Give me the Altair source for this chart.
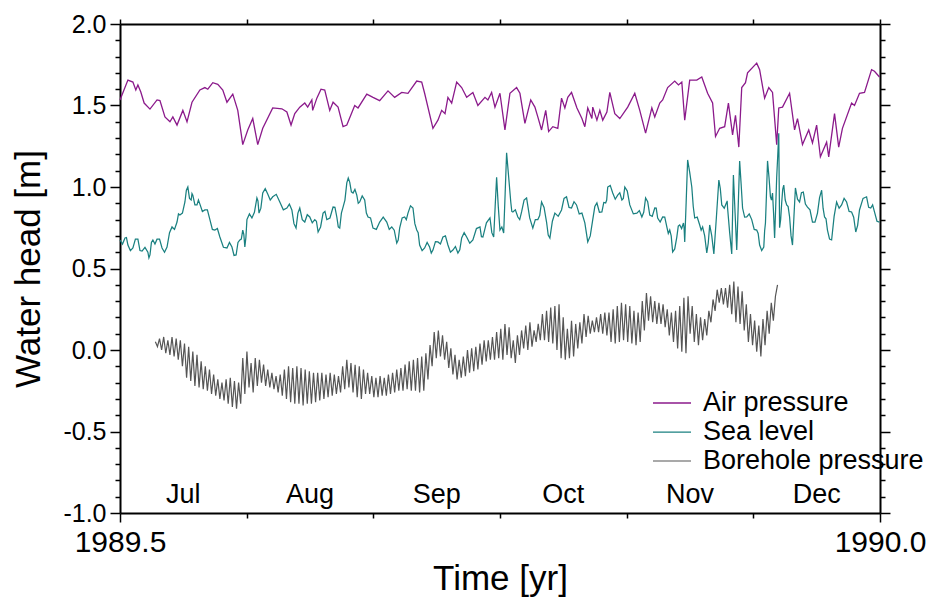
import altair as alt
import pandas as pd

FONT = "Liberation Sans"

# Air pressure expressed as water head: days after mid-year 1989 and head [m]
air_day = [0, 1.9, 3.1, 3.8, 4.3, 5.0, 5.8, 7.2, 8.9, 9.6, 10.8, 12.0, 12.7, 13.7, 15.1, 16.1, 17.3,
           19.2, 20.4, 21.1, 22.3, 23.5, 24.7, 25.7, 27.1, 28.3, 29.5, 30.7, 31.9, 33.1, 34.3, 36.7,
           38.9, 40.1, 41.1, 42.0, 43.2, 44.4, 45.1, 46.1, 46.3, 47.3, 48.3, 49.2, 50.4, 51.2, 52.4,
           53.6, 54.5, 56.4, 57.2, 59.3, 60.8, 62.4, 64.4, 66.0, 67.7, 69.2, 71.3, 72.5, 73.2, 75.2,
           76.4, 77.3, 78.1, 78.8, 79.7, 80.9, 82.1, 83.3, 84.8, 86.0, 87.7, 88.4, 89.3, 90.1, 91.3,
           92.5, 93.7, 95.3, 96.1, 97.3, 98.7, 99.7, 100.4, 101.3, 102.3, 103.0, 104.0, 105.2, 106.1,
           106.9, 107.6, 108.5, 109.8, 111.0, 111.7, 112.4, 113.4, 113.6, 114.6, 115.3, 116.0, 117.0,
           117.7, 118.9, 120.1, 122.0, 123.7, 124.9, 126.3, 127.8, 128.5, 129.7, 130.4, 131.6, 133.3,
           134.2, 135.0, 135.7, 136.9, 138.6, 139.8, 141.2, 142.4, 143.1, 144.1, 145.3, 146.2, 147.2,
           147.9, 148.7, 149.4, 150.3, 150.8, 153.0, 153.7, 154.9, 155.9, 156.8, 157.8, 158.3, 159.2,
           160.9, 162.1, 162.8, 164.0, 165.5, 166.4, 167.4, 168.3, 169.8, 170.3, 171.7, 172.7, 173.6,
           175.8, 176.5, 177.7, 178.9, 180.6, 181.3, 182.5]
air_val = [1.534, 1.656, 1.644, 1.595, 1.626, 1.583, 1.515, 1.478, 1.534, 1.53, 1.43, 1.40, 1.43, 1.38,
           1.47, 1.40, 1.52, 1.595, 1.61, 1.60, 1.64, 1.63, 1.595, 1.52, 1.57, 1.47, 1.26, 1.35, 1.42,
           1.26, 1.36, 1.485, 1.48, 1.46, 1.38, 1.45, 1.49, 1.515, 1.49, 1.534, 1.47, 1.545, 1.60,
           1.595, 1.47, 1.52, 1.49, 1.37, 1.38, 1.50, 1.485, 1.57, 1.55, 1.53, 1.59, 1.55, 1.58, 1.575,
           1.65, 1.644, 1.575, 1.36, 1.41, 1.47, 1.45, 1.55, 1.515, 1.644, 1.61, 1.55, 1.58, 1.50,
           1.55, 1.534, 1.58, 1.49, 1.575, 1.35, 1.575, 1.61, 1.575, 1.39, 1.534, 1.49, 1.43, 1.35,
           1.47, 1.34, 1.37, 1.36, 1.545, 1.485, 1.55, 1.58, 1.485, 1.42, 1.37, 1.485, 1.42, 1.49,
           1.41, 1.47, 1.41, 1.46, 1.58, 1.45, 1.42, 1.49, 1.575, 1.47, 1.33, 1.485, 1.43, 1.515,
           1.534, 1.61, 1.65, 1.626, 1.644, 1.41, 1.656, 1.656, 1.675, 1.575, 1.515, 1.31, 1.36, 1.37,
           1.515, 1.32, 1.44, 1.245, 1.61, 1.64, 1.70, 1.76, 1.72, 1.545, 1.61, 1.58, 1.26, 1.485,
           1.49, 1.575, 1.35, 1.42, 1.26, 1.35, 1.27, 1.38, 1.185, 1.275, 1.185, 1.45, 1.245, 1.36,
           1.515, 1.50, 1.575, 1.58, 1.72, 1.71, 1.675]

# Sea level: days after mid-year 1989 and head [m]
sea_day = [0, 1.2, 1.9, 3.1, 4.3, 5.3, 6.7, 7.2, 7.9, 8.9, 10.1, 11.3, 12.5, 13.7, 14.4, 15.6, 16.3,
           17.1, 17.5, 18.5, 19.2, 20.4, 21.6, 22.8, 24.0, 25.7, 26.9, 27.9, 28.8, 29.5, 30.0, 30.5,
           31.7, 32.9, 33.4, 34.3, 35.5, 36.7, 38.4, 40.1, 41.3, 42.3, 43.2, 44.4, 45.6, 46.8, 47.6,
           48.8, 49.7, 51.2, 52.1, 52.8, 53.6, 54.5, 55.2, 56.0, 56.9, 57.6, 58.8, 59.6, 60.8, 62.4,
           64.1, 65.3, 66.5, 67.2, 68.4, 69.2, 70.4, 71.3, 72.0, 73.2, 74.4, 75.2, 76.4, 77.6, 78.8,
           80.0, 81.2, 82.1, 83.3, 84.8, 86.5, 87.2, 88.9, 89.8, 90.5, 91.3, 92.2, 92.9, 93.9, 94.4,
           95.6, 96.5, 97.7, 99.2, 100.4, 101.3, 102.5, 103.3, 104.5, 106.1, 107.3, 108.5, 109.7,
           111.0, 112.4, 113.6, 114.6, 115.8, 116.7, 117.2, 118.4, 119.6, 120.6, 121.3, 122.5, 124.2,
           125.4, 126.3, 127.3, 128.5, 129.2, 130.4, 131.4, 132.1, 132.8, 133.8, 134.5, 135.4, 135.7,
           136.4, 137.4, 138.1, 139.3, 140.0, 141.0, 141.7, 142.7, 143.9, 144.6, 145.8, 146.0, 147.0,
           147.4, 148.2, 148.9, 149.6, 150.6, 151.8, 153.0, 153.7, 154.7, 155.1, 155.6, 156.3, 156.8,
           157.3, 157.8, 158.3, 158.5, 159.0, 159.5, 160.2, 160.9, 161.6, 162.3, 163.3, 164.2, 165.2,
           166.4, 167.6, 168.6, 169.3, 170.0, 171.0, 172.2, 173.4, 174.6, 175.8, 176.8, 177.7, 179.4,
           180.4, 181.3, 182.5]
sea_val = [0.675, 0.687, 0.644, 0.626, 0.68, 0.607, 0.60, 0.583, 0.675, 0.68, 0.626, 0.632, 0.755,
           0.785, 0.828, 0.908, 1.0, 0.92, 0.95, 0.89, 0.895, 0.859, 0.80, 0.736, 0.693, 0.626, 0.632,
           0.583, 0.675, 0.736, 0.632, 0.80, 0.81, 0.933, 0.84, 0.963, 0.957, 0.94, 0.908, 0.871,
           0.859, 0.748, 0.871, 0.785, 0.816, 0.80, 0.724, 0.84, 0.80, 0.877, 0.816, 0.748, 0.877,
           1.025, 1.03, 0.963, 0.95, 0.908, 0.92, 0.816, 0.748, 0.785, 0.785, 0.755, 0.656, 0.748,
           0.816, 0.84, 0.871, 0.736, 0.644, 0.626, 0.632, 0.613, 0.663, 0.693, 0.644, 0.613, 0.595,
           0.687, 0.693, 0.675, 0.755, 0.693, 0.81, 0.693, 1.06, 0.736, 0.718, 1.21, 0.908, 0.847,
           0.816, 0.847, 0.933, 0.748, 0.80, 0.908, 0.785, 0.687, 0.84, 0.859, 0.94, 0.871, 0.89,
           0.84, 0.663, 0.80, 0.902, 0.847, 0.902, 1.0, 0.963, 0.95, 0.92, 1.0, 0.89, 0.84, 0.816,
           0.933, 0.828, 0.871, 0.81, 0.816, 0.755, 0.736, 0.601, 0.693, 0.767, 0.779, 0.663, 1.166,
           1.0, 0.81, 0.767, 0.755, 0.595, 0.767, 0.589, 1.043, 0.89, 0.908, 0.871, 0.589, 1.074,
           0.613, 1.16, 0.871, 0.816, 0.80, 0.736, 0.644, 0.632, 0.779, 1.16, 0.94, 0.963, 0.687,
           1.06, 1.33, 0.75, 0.902, 1.012, 0.89, 0.816, 0.644, 0.994, 0.908, 0.969, 0.877, 0.785,
           0.84, 0.98, 0.816, 0.736, 0.675, 0.908, 0.89, 0.908, 0.847, 0.724, 0.859, 0.94, 0.871,
           0.847, 0.785]
# Sea level readings taken halfway between the samples above (short-period chop)
sea_mid_val = [0.65, 0.69, 0.61, 0.68, 0.61, 0.63, 0.565, 0.66, 0.65, 0.68, 0.60, 0.72, 0.74,
               0.835, 0.84, 0.98, 0.93, 0.96, 0.89, 0.92, 0.85, 0.86, 0.74, 0.745, 0.63, 0.66,
               0.58, 0.66, 0.68, 0.71, 0.69, 0.835, 0.845, 0.915, 0.87, 0.99, 0.92, 0.955, 0.86,
               0.895, 0.775, 0.84, 0.80, 0.83, 0.78, 0.79, 0.755, 0.85, 0.81, 0.875, 0.755, 0.84,
               0.92, 1.055, 0.97, 0.985, 0.90, 0.945, 0.84, 0.81, 0.74, 0.815, 0.74, 0.735, 0.675,
               0.81, 0.80, 0.885, 0.775, 0.72, 0.61, 0.66, 0.595, 0.665, 0.65, 0.70, 0.60, 0.635,
               0.615, 0.72, 0.655, 0.745, 0.695, 0.78, 0.72, 0.88, 0.88, 0.755, 0.96, 1.06, 0.85,
               0.86, 0.80, 0.92, 0.81, 0.80, 0.825, 0.875, 0.705, 0.79, 0.82, 0.93, 0.875, 0.91,
               0.835, 0.78, 0.70, 0.88, 0.845, 0.905, 0.92, 1.01, 0.925, 0.965, 0.93, 0.975, 0.835,
               0.855, 0.845, 0.91, 0.82, 0.87, 0.785, 0.815, 0.715, 0.70, 0.62, 0.76, 0.745, 0.75,
               0.91, 1.09, 0.88, 0.815, 0.735, 0.70, 0.655, 0.70, 0.81, 0.99, 0.87, 0.915, 0.72,
               0.83, 0.84, 0.88, 1.02, 0.815, 0.835, 0.74, 0.715, 0.61, 0.73, 0.96, 1.06, 0.92,
               0.84, 0.87, 1.19, 1.03, 0.80, 0.985, 0.92, 0.88, 0.70, 0.82, 0.925, 0.965, 0.895,
               0.86, 0.785, 0.935, 0.87, 0.805, 0.68, 0.82, 0.87, 0.93, 0.85, 0.815, 0.765, 0.93,
               0.875, 0.89, 0.79]

# Borehole pressure: half-day samples starting at day 8.5 (tidal highs and lows)
bore_start_day = 8.5
bore_step_day = 0.5
bore_val = [
    0.05, 0.02, 0.07, 0.00, 0.08, -0.02, 0.06, -0.03, 0.08, -0.04, 0.07, -0.06, 0.06, -0.10,
    0.04, -0.17, 0.02, -0.19, -0.01, -0.22, -0.03, -0.23, -0.07, -0.24, -0.10, -0.25,
    -0.12, -0.27, -0.15, -0.28, -0.18, -0.30, -0.20, -0.31, -0.18, -0.33, -0.17, -0.35,
    -0.19, -0.36, -0.20, -0.33, -0.05, -0.27, -0.01, -0.23, -0.08, -0.26, -0.05, -0.22,
    -0.06, -0.20, -0.09, -0.22, -0.12, -0.23, -0.14, -0.24, -0.16, -0.26, -0.15, -0.28,
    -0.12, -0.30, -0.10, -0.32, -0.11, -0.33, -0.10, -0.33, -0.11, -0.34, -0.12, -0.33,
    -0.13, -0.33, -0.14, -0.32, -0.14, -0.31, -0.14, -0.30, -0.15, -0.29, -0.14, -0.28,
    -0.15, -0.27, -0.16, -0.26, -0.10, -0.24, -0.06, -0.23, -0.08, -0.26, -0.09, -0.29,
    -0.10, -0.30, -0.12, -0.27, -0.14, -0.27, -0.16, -0.29, -0.17, -0.29, -0.16, -0.28,
    -0.17, -0.28, -0.15, -0.27, -0.14, -0.26, -0.12, -0.25, -0.11, -0.25, -0.09, -0.24,
    -0.07, -0.25, -0.06, -0.25, -0.05, -0.26, -0.04, -0.25, -0.02, -0.18, 0.03, -0.10,
    0.11, -0.05, 0.12, -0.04, 0.09, -0.06, 0.05, -0.11, 0.01, -0.15, -0.03, -0.18,
    -0.06, -0.17, -0.04, -0.16, 0.00, -0.14, 0.01, -0.13, 0.02, -0.12, 0.04, -0.09,
    0.06, -0.07, 0.06, -0.06, 0.08, -0.06, 0.11, -0.05, 0.13, -0.06, 0.16, -0.03,
    0.14, -0.05, 0.06, -0.08, 0.09, -0.03, 0.12, 0.01, 0.15, 0.00, 0.17, 0.02,
    0.12, 0.05, 0.16, 0.06, 0.22, 0.06, 0.24, 0.05, 0.26, 0.04, 0.27, 0.00,
    0.28, -0.05, 0.20, -0.06, 0.13, -0.05, 0.18, -0.04, 0.16, 0.01, 0.17, 0.04,
    0.22, 0.08, 0.21, 0.10, 0.18, 0.11, 0.20, 0.11, 0.22, 0.10, 0.23, 0.09,
    0.23, 0.05, 0.25, 0.04, 0.27, 0.05, 0.29, 0.06, 0.28, 0.05, 0.27, 0.04,
    0.24, 0.03, 0.23, 0.05, 0.30, 0.12, 0.35, 0.18, 0.33, 0.17, 0.30, 0.16,
    0.29, 0.16, 0.28, 0.14, 0.25, 0.09, 0.23, 0.05, 0.24, 0.01, 0.27, -0.01,
    0.32, -0.02, 0.33, 0.10, 0.27, 0.05, 0.22, 0.03, 0.20, 0.06, 0.19, 0.09,
    0.24, 0.17, 0.31, 0.24, 0.37, 0.29, 0.38, 0.28, 0.38, 0.26, 0.40, 0.22,
    0.42, 0.17, 0.39, 0.16, 0.36, 0.12, 0.28, 0.05, 0.22, 0.03, 0.18, -0.01,
    0.15, -0.04, 0.19, 0.03, 0.24, 0.10, 0.29, 0.18, 0.33, 0.40,
]

series_names = ["Air pressure", "Sea level", "Borehole pressure"]
series_colors = ["#8b1a8b", "#1a8080", "#555555"]
series_widths = [1.3, 1.2, 0.5]
month_names = ["Jul", "Aug", "Sep", "Oct", "Nov", "Dec"]

T0 = 1989.5
DAYS_PER_YEAR = 365.25

bore_day = [bore_start_day + bore_step_day * i for i in range(len(bore_val))]

# interleave the half-way sea level readings with the main samples
sea_mid_day = [(a + b) / 2 for a, b in zip(sea_day[:-1], sea_day[1:])]
sea_all = sorted(zip(sea_day + sea_mid_day, sea_val + sea_mid_val))
sea_all_day = [d for d, _ in sea_all]
sea_all_val = [v for _, v in sea_all]

frames = []
for name, days, vals in [
    ("Air pressure", air_day, air_val),
    ("Sea level", sea_all_day, sea_all_val),
    ("Borehole pressure", bore_day, bore_val),
]:
    frames.append(pd.DataFrame({
        "year": [T0 + d / DAYS_PER_YEAR for d in days],
        "head": vals,
        "series": name,
        "order": range(len(vals)),
    }))
df = pd.concat(frames, ignore_index=True)

month_edges = [T0 + k / 12 for k in range(7)]
months = pd.DataFrame({
    "year": [T0 + (k + 0.5) / 12 for k in range(len(month_names))],
    "head": [-0.89] * len(month_names),
    "label": month_names,
})

y_ticks = [round(-1.0 + 0.1 * i, 1) for i in range(31)]
is_major = "abs(datum.value * 2 - round(datum.value * 2)) < 0.001"
y_tick_size = {"condition": {"test": is_major, "value": 10}, "value": 5}
x_end = "abs(datum.value - 1989.5) < 0.001 || abs(datum.value - 1990) < 0.001"
x_tick_size = {"condition": {"test": x_end, "value": 9}, "value": 5}

x_scale = alt.Scale(domain=[1989.5, 1990.0], nice=False, zero=False)
y_scale = alt.Scale(domain=[-1.0, 2.0], nice=False, zero=False)

common_axis = dict(
    grid=False, domainColor="black", domainWidth=2, tickColor="black", tickWidth=1.5,
    labelFont=FONT, titleFont=FONT, labelColor="black", titleColor="black",
    titleFontWeight="normal", labelOverlap=False, labelBound=False, labelFlush=False,
)

x_axis = alt.Axis(
    values=month_edges, tickSize=x_tick_size, labelFontSize=30, labelPadding=5,
    labelExpr="abs(datum.value - 1989.5) < 0.001 ? '1989.5' : (abs(datum.value - 1990) < 0.001 ? '1990.0' : '')",
    title="Time [yr]", titleFontSize=35, titleX=380, titleY=65, titleBaseline="middle",
    titleAlign="center", **common_axis,
)
y_axis = alt.Axis(
    values=y_ticks, tickSize=y_tick_size, labelFontSize=25, labelPadding=4,
    labelExpr=f"{is_major} ? ((datum.value < -0.001 ? '-' : '') + format(abs(datum.value), '.1f')) : ''",
    title="Water head [m]", titleFontSize=35, titleX=-92, titleY=244.5, titleAngle=-90,
    titleBaseline="middle", titleAlign="center", **common_axis,
)
x_axis_top = alt.Axis(orient="top", values=month_edges, tickSize=5, labels=False, title=None,
                      **common_axis)
y_axis_right = alt.Axis(orient="right", values=y_ticks, tickSize=y_tick_size, labels=False,
                        title=None, **common_axis)

lines = alt.Chart(df).mark_line(interpolate="linear").encode(
    x=alt.X("year:Q", scale=x_scale, axis=x_axis),
    y=alt.Y("head:Q", scale=y_scale, axis=y_axis),
    color=alt.Color(
        "series:N",
        scale=alt.Scale(domain=series_names, range=series_colors),
        legend=alt.Legend(
            orient="none", legendX=532, legendY=365, title=None, padding=0,
            symbolType="stroke", symbolSize=1444, symbolStrokeWidth=1.2,
            labelFont=FONT, labelFontSize=27, labelColor="black", labelOffset=11,
            rowPadding=1, clipHeight=28, labelLimit=400,
        ),
        sort=series_names,
    ),
    strokeWidth=alt.StrokeWidth(
        "series:N", scale=alt.Scale(domain=series_names, range=series_widths), legend=None
    ),
    detail="series:N",
    order="order:Q",
)

month_text = alt.Chart(months).mark_text(
    font=FONT, fontSize=27, color="black", baseline="middle", align="center"
).encode(
    x=alt.X("year:Q", scale=x_scale, axis=x_axis_top),
    y=alt.Y("head:Q", scale=y_scale, axis=y_axis_right),
    text="label:N",
)

chart = (
    alt.layer(lines, month_text)
    .resolve_axis(x="independent", y="independent")
    .properties(
        width=760, height=489,
        autosize=alt.AutoSizeParams(type="none"),
        padding={"left": 120, "top": 24, "right": 55, "bottom": 84},
        background="white",
    )
    .configure_view(stroke=None)
)

chart.save("out.html", embed_options={"renderer": "svg", "actions": False})
